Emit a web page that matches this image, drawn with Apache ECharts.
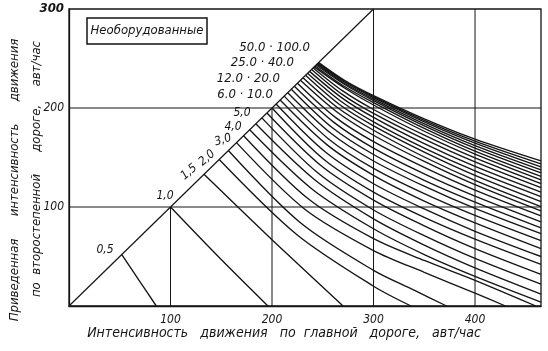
<!DOCTYPE html>
<html>
<head>
<meta charset="utf-8">
<script src="https://cdn.jsdelivr.net/npm/echarts@6/dist/echarts.min.js"></script>
<style>
  html, body { margin: 0; padding: 0; background: #fff; }
  #chart { width: 548px; height: 351px; }
</style>
</head>
<body>
<div id="chart"></div>
<script>
// ticks
const xTicks = [100, 200, 300, 400];
const yTicks = [100, 200, 300];
const xMax = 465;

// boundary y = x
const diagonal = [[0, 0], [300, 300]];

// curves 0.5, 1.0, 1.5, 2.0, 2.5, 3.0, 3.5, 4.0, 4.5, 5.0
const curvesLow = [
  [[52, 52], [69, 26], [86, 0]],
  [[100, 100], [148, 49], [196, 0]],
  [[133, 133], [201, 66], [270, 0]],
  [[148, 148], [224, 72.5], [300, 20], [337, 0]],
  [[157, 157], [228, 84], [300, 36], [340, 16], [372, 0]],
  [[165, 165], [232, 98], [300, 56], [350, 34], [400, 13], [430, 0]],
  [[172, 172], [236, 108], [300, 68], [350, 46], [400, 26], [460, 0]],
  [[178, 178], [239, 118.5], [300, 78], [350, 52], [400, 30], [465, 4]],
  [[184, 184], [242, 127.5], [300, 88], [350, 61.5], [400, 38.5], [465, 12]],
  [[190, 190], [245, 134.5], [300, 97], [350, 71], [400, 48], [465, 22]]
];
// curves 6 .. 20
const curvesMid = [
  [[195, 195], [247.5, 142.5], [300, 107], [350, 81], [400, 58], [465, 32]],
  [[200, 200], [250, 149], [300, 115], [350, 89.5], [400, 67.5], [465, 42]],
  [[204, 204], [252, 156], [300, 123.5], [350, 98], [400, 75.5], [465, 50]],
  [[208, 208], [254, 163], [300, 132], [350, 106], [400, 84], [465, 58]],
  [[212, 212], [256, 168.5], [300, 139], [350, 113.5], [400, 91.5], [465, 66]],
  [[215.5, 215.5], [258, 174.5], [300, 146.5], [350, 121], [400, 98.5], [465, 73]],
  [[219, 219], [259.5, 180], [300, 153], [350, 127], [400, 105], [465, 79]],
  [[222, 222], [261, 185.5], [300, 159.5], [350, 133.5], [400, 111], [465, 85]],
  [[225, 225], [262.5, 190.5], [300, 166], [350, 140], [400, 117], [465, 91]],
  [[228, 228], [264, 196], [300, 172.5], [350, 146], [400, 122.5], [465, 96]]
];
// curves 25 .. 100
const curvesHigh = [
  [[230.5, 230.5], [265, 200], [300, 177.5], [350, 150.5], [400, 127], [465, 100.5]],
  [[233, 233], [266.5, 203.5], [300, 182], [350, 155.5], [400, 132], [465, 105.5]],
  [[235, 235], [267.5, 207], [300, 186], [350, 159.5], [400, 136.5], [465, 110.5]],
  [[237, 237], [268.5, 210.5], [300, 190.5], [350, 164], [400, 141], [465, 115]],
  [[239, 239], [269.5, 213.5], [300, 194.5], [350, 168.5], [400, 145.5], [465, 119.5]],
  [[240.5, 240.5], [270, 217], [300, 198.5], [350, 172.5], [400, 149.5], [465, 123.5]],
  [[241.5, 241.5], [271, 220.5], [300, 203], [350, 176.5], [400, 153.5], [465, 127.5]],
  [[242.5, 242.5], [271, 222], [300, 205.5], [350, 179.5], [400, 156.5], [465, 131]],
  [[243.5, 243.5], [272, 223.5], [300, 207.5], [350, 182], [400, 159.5], [465, 134.5]],
  [[244.2, 244.2], [272, 224.5], [300, 209], [350, 184], [400, 162], [465, 137.5]],
  [[244.8, 244.8], [272.5, 225.5], [300, 210.5], [350, 186], [400, 164.5], [465, 140.5]],
  [[245.4, 245.4], [272.5, 226.5], [300, 211.5], [350, 187.5], [400, 166.5], [465, 143.5]],
  [[246, 246], [273, 227], [300, 212.5], [350, 189], [400, 168.5], [465, 146.5]]
];

const lowLabels = ['0,5', '1,0', '1,5', '2,0', '3,0', '4,0', '5,0'];
const groupLabels = ['50.0 · 100.0', '25.0 · 40.0', '12.0 · 20.0', '6.0 · 10.0'];

const FONT = "'Liberation Sans Narrow', 'DejaVu Sans Condensed', 'Liberation Sans', sans-serif";
const INK = '#151515';

const chart = echarts.init(document.getElementById('chart'));

const series = [];
// grid segments: verticals stop at the diagonal, horizontals run full width
xTicks.forEach(t => {
  series.push({
    type: 'line', data: [[t, 0], [t, Math.min(t, 300)]],
    symbol: 'none', silent: true, lineStyle: { color: INK, width: 1 }
  });
});
yTicks.filter(t => t < 300).forEach(t => {
  series.push({
    type: 'line', data: [[0, t], [xMax, t]],
    symbol: 'none', silent: true, lineStyle: { color: INK, width: 1 }
  });
});
series.push({
  type: 'line', data: diagonal, symbol: 'none', silent: true,
  lineStyle: { color: INK, width: 1.2 }
});

const allCurves = [].concat(curvesLow, curvesMid, curvesHigh);
allCurves.forEach(pts => {
  series.push({
    type: 'line', data: pts, smooth: 0.3,
    symbol: 'none', silent: true, z: 3,
    lineStyle: { color: INK, width: 1.35 }
  });
});

// label positions (pixels)
const lowLabelPos = [[105, 250, 0], [165, 196, 0], [189, 172, 0.7], [207, 158, 0.7], [223, 140, 0.3], [233, 127, 0], [242, 113, 0]];
const groupLabelPos = [[310, 48], [294, 63], [280, 79], [273, 95]];

const graphic = [
  {
    type: 'rect', shape: { x: 87, y: 18, width: 120, height: 26 },
    style: { fill: '#fff', stroke: INK, lineWidth: 1.5 }, z: 10
  },
  {
    type: 'text', x: 147, y: 31, z: 11,
    style: { text: 'Необорудованные', font: `italic 13px ${FONT}`, fill: INK, textAlign: 'center', textVerticalAlign: 'middle' }
  },
  {
    type: 'text', x: 284, y: 333, z: 11,
    style: { text: 'Интенсивность   движения   по  главной   дороге,   авт/час', font: `italic 14px ${FONT}`, fill: INK, textAlign: 'center', textVerticalAlign: 'middle' }
  },
  {
    type: 'text', x: 15, y: 180, rotation: Math.PI / 2, z: 11,
    style: { text: 'Приведенная      интенсивность      движения', font: `italic 13px ${FONT}`, fill: INK, textAlign: 'center', textVerticalAlign: 'middle' }
  },
  {
    type: 'text', x: 37, y: 169, rotation: Math.PI / 2, z: 11,
    style: { text: 'по  второстепенной      дороге,     авт/час', font: `italic 13px ${FONT}`, fill: INK, textAlign: 'center', textVerticalAlign: 'middle' }
  }
];
lowLabels.forEach((txt, i) => {
  const p = lowLabelPos[i];
  graphic.push({
    type: 'text', x: p[0], y: p[1], rotation: p[2], z: 11,
    style: { text: txt, font: `italic 12px ${FONT}`, fill: INK, textAlign: 'center', textVerticalAlign: 'middle' }
  });
});
groupLabels.forEach((txt, i) => {
  const p = groupLabelPos[i];
  graphic.push({
    type: 'text', x: p[0], y: p[1], z: 11,
    style: { text: txt, font: `italic 13px ${FONT}`, fill: INK, textAlign: 'right', textVerticalAlign: 'middle' }
  });
});

chart.setOption({
  animation: false,
  backgroundColor: '#fff',
  grid: { left: 69, right: 7, top: 9, bottom: 45, show: true, borderColor: INK, borderWidth: 1.3 },
  xAxis: {
    type: 'value', min: 0, max: xMax, interval: 100,
    axisLine: { show: true, lineStyle: { color: INK, width: 1.3 } },
    axisTick: { show: false },
    splitLine: { show: false },
    axisLabel: {
      color: INK, fontFamily: FONT, fontStyle: 'italic', fontSize: 12, margin: 8,
      formatter: v => (xTicks.indexOf(v) >= 0 ? String(v) : '')
    }
  },
  yAxis: {
    type: 'value', min: 0, max: 300, interval: 100,
    axisLine: { show: true, lineStyle: { color: INK, width: 1.3 } },
    axisTick: { show: false },
    splitLine: { show: false },
    axisLabel: {
      color: INK, fontFamily: FONT, fontStyle: 'italic', fontSize: 12, margin: 5,
      formatter: v => (v === 0 ? '' : v === 300 ? '{b|300}' : String(v)),
      rich: { b: { fontFamily: FONT, fontStyle: 'italic', fontWeight: 'bold', fontSize: 13, color: INK } }
    }
  },
  graphic: graphic,
  series: series
});
</script>
</body>
</html>
